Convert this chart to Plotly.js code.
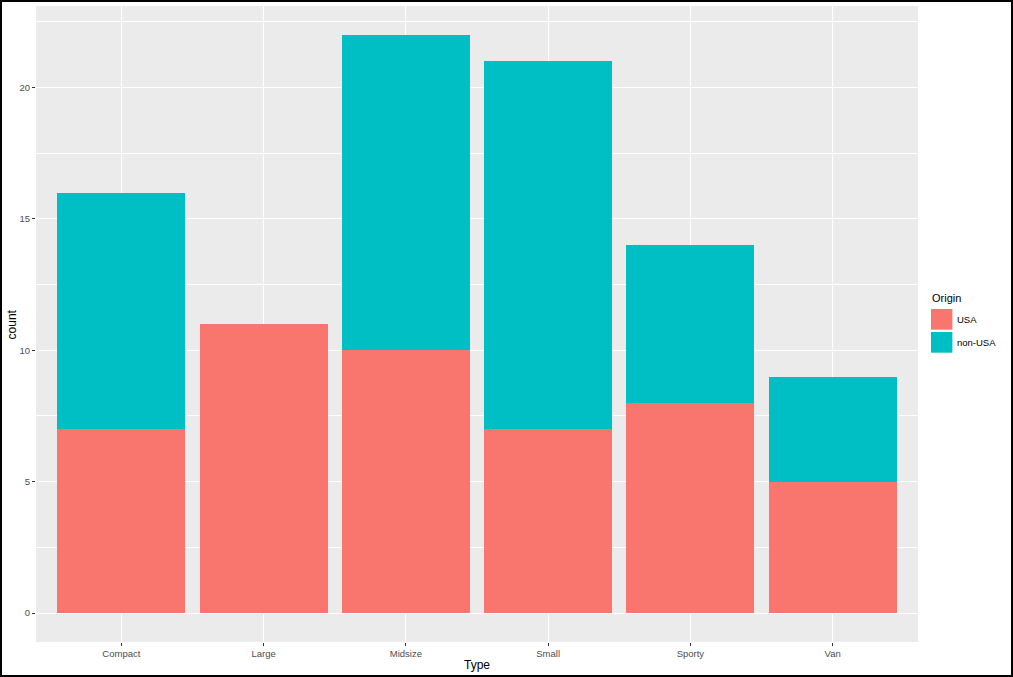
<!DOCTYPE html>
<html>
<head>
<meta charset="utf-8">
<script src="https://cdn.plot.ly/plotly-3.0.1.min.js"></script>
<style>
body { margin: 0; background: #fff; }
#grafico { width: 1009px; height: 673px; border: 2px solid #000; }
</style>
</head>
<body>
<div id="grafico"></div>
<script>
// Tipos de carro e contagens por origem
let tipos = ["Compact", "Large", "Midsize", "Small", "Sporty", "Van"]
let usa = [7, 11, 10, 7, 8, 5]
let naoUsa = [9, 0, 12, 14, 6, 4]
let origens = ["USA", "non-USA"]
let cores = ["#F8766D", "#00BFC4"]

let graf = document.getElementById("grafico")

let graf_1 = {
    x: tipos,
    y: usa,
    type: 'bar',
    name: origens[0],
    marker: {color: cores[0]},
    width: 0.9,
    hoverinfo: 'x+y+name'
}

let graf_2 = {
    x: tipos,
    y: naoUsa,
    type: 'bar',
    name: origens[1],
    marker: {color: cores[1]},
    width: 0.9,
    hoverinfo: 'x+y+name'
}

// legenda desenhada à mão, no estilo do ggplot
let formas = []
let notas = [{
    xref: 'paper', yref: 'paper',
    x: 1.0135, y: 0.541,
    xanchor: 'left', yanchor: 'middle',
    text: 'Origin', showarrow: false,
    font: {size: 11, color: '#000'}
}, {
    // rótulo do eixo y
    xref: 'paper', yref: 'paper',
    x: -0.0165, y: 0.5,
    xanchor: 'right', yanchor: 'middle',
    text: 'count', textangle: -90, showarrow: false,
    font: {size: 12, color: '#000'}
}]
for (let i = 0; i < origens.length; i++) {
    let y1 = 0.5236 - i * 0.0362
    formas.push({
        type: 'rect', xref: 'paper', yref: 'paper',
        x0: 1.0147, x1: 1.039, y0: y1 - 0.0325, y1: y1,
        fillcolor: cores[i], line: {width: 0}
    })
    notas.push({
        xref: 'paper', yref: 'paper',
        x: 1.0415, y: y1 - 0.017,
        xanchor: 'left', yanchor: 'middle',
        text: origens[i], showarrow: false,
        font: {size: 9.5, color: '#000'}
    })
}

let layout_1 = {
    width: 1009,
    height: 673,
    barmode: 'stack',
    bargap: 0.1,
    showlegend: false,
    paper_bgcolor: '#fff',
    plot_bgcolor: '#EBEBEB',
    margin: {l: 34, r: 93, t: 4, b: 33},
    font: {family: 'Liberation Sans, Arial, sans-serif'},
    xaxis: {
        title: {text: 'Type', font: {size: 12, color: '#000'}, standoff: 2},
        range: [-0.6, 5.6],
        showgrid: true, gridcolor: '#fff', gridwidth: 1.2,
        ticks: 'outside', ticklen: 3, tickcolor: '#333',
        tickfont: {size: 9.5, color: '#4D4D4D'},
        zeroline: false, showline: false, fixedrange: true
    },
    yaxis: {
        range: [-1.1, 23.1],
        tickvals: [0, 5, 10, 15, 20],
        showgrid: true, gridcolor: '#fff', gridwidth: 1.2,
        minor: {tickvals: [2.5, 7.5, 12.5, 17.5, 22.5], showgrid: true, gridcolor: '#fff', gridwidth: 0.6},
        ticks: 'outside', ticklen: 3, tickcolor: '#333',
        tickfont: {size: 9.5, color: '#4D4D4D'},
        zeroline: false, showline: false, fixedrange: true
    },
    shapes: formas,
    annotations: notas
}

Plotly.newPlot(graf, [graf_1, graf_2], layout_1, {displayModeBar: false})
</script>
</body>
</html>
